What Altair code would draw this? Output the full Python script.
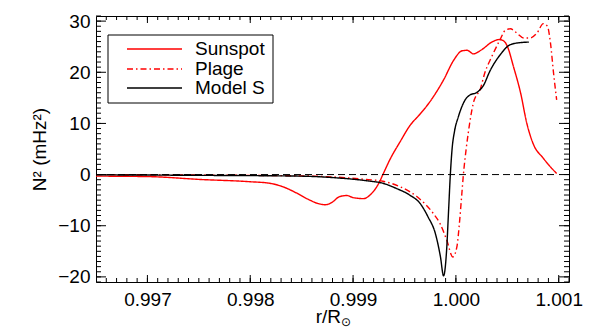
import altair as alt
import pandas as pd

# ---- data ----
sun_x = [0.99650, 0.99702, 0.99751, 0.99800, 0.99819, 0.99832, 0.99845, 0.99858,
         0.99865, 0.99873, 0.99879, 0.99887, 0.99894, 0.99900, 0.99910, 0.99918,
         0.99925, 0.99929, 0.99936, 0.99946, 0.99955, 0.99965, 0.99972, 0.99980,
         0.99988, 0.99998, 1.00006, 1.00011, 1.00017, 1.00025, 1.00035, 1.00042,
         1.00046, 1.00050, 1.00056, 1.00063, 1.00069, 1.00075, 1.00085, 1.00098]
sun_y = [-0.3, -0.4, -0.95, -1.4, -1.7, -2.4, -3.6, -5.0,
         -5.6, -5.9, -5.5, -4.3, -4.1, -4.5, -4.7, -3.7,
         -1.7, 0.0, 3.0, 6.5, 9.5, 11.8, 13.5, 15.8,
         18.5, 22.4, 24.2, 24.3, 23.6, 24.4, 25.9, 26.4,
         26.2, 25.1, 21.1, 15.9, 10.0, 6.1, 3.2, 0.2]

plage_x = [0.99650, 0.99751, 0.99848, 0.99913, 0.99929, 0.99946, 0.99962, 0.99978,
           0.999846, 0.999911, 0.999970, 1.000009, 1.000034, 1.000058, 1.000073,
           1.00010, 1.00012, 1.00017, 1.00024, 1.00028, 1.00035, 1.00043, 1.00048,
           1.00053, 1.00059, 1.00066, 1.00072, 1.00079, 1.00085, 1.00089, 1.00092,
           1.00095, 1.00098]
plage_y = [0.0, -0.1, -0.25, -0.95, -1.3, -2.4, -4.3, -7.6,
           -9.6, -12.8, -16.1, -14.2, -9.6, -3.7, 0.0,
           5.0, 8.1, 14.0, 16.9, 19.8, 23.1, 26.4, 28.2,
           28.5, 27.7, 26.7, 26.7, 27.7, 29.5, 29.0, 25.7,
           19.8, 14.6]

model_x = [0.99650, 0.99751, 0.99848, 0.99881, 0.99913, 0.99929, 0.99942, 0.99955,
           0.99965, 0.99973, 0.99980, 0.99985, 0.99988, 0.999909, 0.999929,
           0.999946, 0.999963, 0.999987, 1.000024, 1.00009, 1.00014, 1.00020,
           1.00027, 1.00033, 1.00043, 1.00053, 1.00063, 1.00071]
model_y = [-0.05, -0.15, -0.3, -0.6, -1.2, -1.7, -2.7, -4.0,
           -5.6, -8.3, -11.5, -16.1, -19.8, -15.0, -7.0,
           0.0, 5.0, 8.5, 11.3, 14.6, 15.6, 16.0,
           17.5, 20.2, 23.4, 25.4, 25.8, 25.9]

series_names = ["Sunspot", "Plage", "Model S"]
series_colors = ["#ff0000", "#ff0000", "#000000"]
series_dash = [[1, 0], [6, 3, 1.5, 3], [1, 0]]

x_major = [0.997, 0.998, 0.999, 1.000, 1.001]
x_minor = [round(0.9966 + 0.0001 * i, 4) for i in range(46)]
y_major = [-20, -10, 0, 10, 20, 30]
y_minor = list(range(-21, 32))

X_DOMAIN = [0.9965, 1.0011]
Y_DOMAIN = [-21, 31]
W, H = 473, 266
FONT = "Liberation Sans"

xs = alt.Scale(domain=X_DOMAIN, nice=False, zero=False)
ys = alt.Scale(domain=Y_DOMAIN, nice=False, zero=False)

x_axis = alt.Axis(
    values=x_major, format=".3f", ticks=False, domain=False, grid=False,
    labelFont=FONT, labelFontSize=19, labelColor="black", labelPadding=8,
    title=None)
y_axis = alt.Axis(
    values=y_major, ticks=False, domain=False, grid=False,
    labelFont=FONT, labelFontSize=19, labelColor="black", labelPadding=6,
    title="N\u00b2 (mHz\u00b2)", titleFont=FONT, titleFontSize=19,
    titleFontWeight="normal", titleColor="black", titlePadding=8)

def X(f="x"):
    return alt.X(f + ":Q", scale=xs, axis=x_axis)

def Y(f="y"):
    return alt.Y(f + ":Q", scale=ys, axis=y_axis)

datasets = [(sun_x, sun_y), (plage_x, plage_y), (model_x, model_y)]

layers = []

# lines
for (xv, yv), name, col, dash in zip(datasets, series_names, series_colors, series_dash):
    df = pd.DataFrame({"x": xv, "y": yv})
    layers.append(
        alt.Chart(df).mark_line(color=col, strokeWidth=1.4, strokeDash=dash,
                                interpolate="monotone", clip=True).encode(x=X(), y=Y())
    )

# zero dashed line
zero_df = pd.DataFrame({"x": [X_DOMAIN[0]], "x2": [1.00099], "y": [0]})
layers.append(
    alt.Chart(zero_df).mark_rule(color="black", strokeWidth=1, strokeDash=[7, 4]).encode(
        x=X(), x2="x2:Q", y=Y())
)

# ticks (inward, on all four sides)
def xticks(vals, length):
    df = pd.DataFrame({"x": vals})
    b = alt.Chart(df).mark_rule(color="black", strokeWidth=1).encode(
        x=X(), y=alt.value(H), y2=alt.value(H - length))
    t = alt.Chart(df).mark_rule(color="black", strokeWidth=1).encode(
        x=X(), y=alt.value(0), y2=alt.value(length))
    return [b, t]

def yticks(vals, length):
    df = pd.DataFrame({"y": vals})
    l = alt.Chart(df).mark_rule(color="black", strokeWidth=1).encode(
        y=Y(), x=alt.value(0), x2=alt.value(length))
    r = alt.Chart(df).mark_rule(color="black", strokeWidth=1).encode(
        y=Y(), x=alt.value(W), x2=alt.value(W - length))
    return [l, r]

layers += xticks(x_minor, 4) + xticks(x_major, 7) + yticks(y_minor, 5) + yticks(y_major, 10)

# legend box
one = pd.DataFrame({"a": [0]})
layers.append(
    alt.Chart(one).mark_rect(fill="white", stroke="black", strokeWidth=1).encode(
        x=alt.value(12), x2=alt.value(177), y=alt.value(19), y2=alt.value(87))
)
row_y = [33, 53, 72]
for name, col, dash, ry in zip(series_names, series_colors, series_dash, row_y):
    layers.append(
        alt.Chart(one).mark_rule(color=col, strokeWidth=1.4, strokeDash=dash).encode(
            x=alt.value(31), x2=alt.value(86), y=alt.value(ry))
    )
    layers.append(
        alt.Chart(one).mark_text(text=name, align="left", baseline="middle",
                                 font=FONT, fontSize=19, color="black").encode(
            x=alt.value(99), y=alt.value(ry))
    )

# x-axis title: r/R with a subscript sun symbol
layers.append(
    alt.Chart(one).mark_text(text="r/R", align="right", baseline="alphabetic",
                             font=FONT, fontSize=19, color="black").encode(
        x=alt.value(245), y=alt.value(307))
)
layers.append(
    alt.Chart(one).mark_text(text="\u2299", align="left", baseline="alphabetic",
                             font="DejaVu Sans", fontSize=12, color="black").encode(
        x=alt.value(245), y=alt.value(310))
)

chart = alt.layer(*layers).properties(
    width=W, height=H,
    autosize=alt.AutoSizeParams(type="none"),
    padding={"left": 88, "top": 8, "right": 21, "bottom": 46},
).configure_view(stroke="black", strokeWidth=1)

chart.save("out.html", embed_options={"renderer": "svg", "actions": False})
